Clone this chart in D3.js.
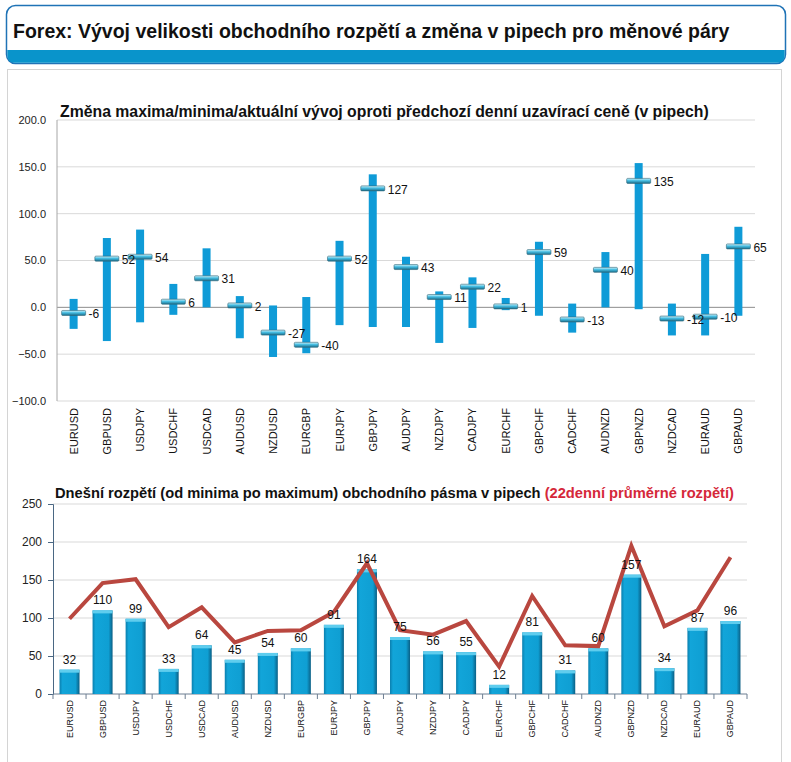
<!DOCTYPE html>
<html>
<head>
<meta charset="utf-8">
<script src="https://cdn.jsdelivr.net/npm/d3@7"></script>
<style>
  body { margin: 0; background: #fff; }
  svg { display: block; font-family: "Liberation Sans", Arial, sans-serif; }
</style>
</head>
<body>
<svg id="chart" width="791" height="762"></svg>
<script>
// Data
const pairs = ['EURUSD', 'GBPUSD', 'USDJPY', 'USDCHF', 'USDCAD', 'AUDUSD', 'NZDUSD', 'EURGBP', 'EURJPY', 'GBPJPY', 'AUDJPY',
    'NZDJPY', 'CADJPY', 'EURCHF', 'GBPCHF', 'CADCHF', 'AUDNZD', 'GBPNZD', 'NZDCAD', 'EURAUD', 'GBPAUD'];
const changeMax = [9, 74, 83, 25, 63, 12, 2, 11, 71, 142, 54, 17, 32, 10, 70, 4, 59, 154, 4, 57, 86];
const changeMin = [-23, -36, -16, -8, 0, -33, -53, -49, -19, -21, -21, -38, -22, -3, -9, -27, 0, -2, -30, -30, -9];
const changeNow = [-6, 52, 54, 6, 31, 2, -27, -40, 52, 127, 43, 11, 22, 1, 59, -13, 40, 135, -12, -10, 65];
const rangeToday = [32, 110, 99, 33, 64, 45, 54, 60, 91, 164, 75, 56, 55, 12, 81, 31, 60, 157, 34, 87, 96];
const range22 = [99, 146, 151, 88, 114, 68, 83, 84, 108, 172, 84, 78, 96, 36, 129, 64, 63, 195, 89, 110, 180];
const topTicks = [-100, -50, 0, 50, 100, 150, 200];
const bottomTicks = [0, 50, 100, 150, 200, 250];

const svg = d3.select('#chart');
const defs = svg.append('defs');

// Gradients
const crossGrad = defs.append('linearGradient').attr('id', 'crossGrad')
    .attr('x1', 0).attr('y1', 0).attr('x2', 0).attr('y2', 1);
crossGrad.append('stop').attr('offset', '0%').attr('stop-color', '#d4f4fb');
crossGrad.append('stop').attr('offset', '45%').attr('stop-color', '#45bde2');
crossGrad.append('stop').attr('offset', '100%').attr('stop-color', '#1b6d8a');

const barGrad = defs.append('linearGradient').attr('id', 'barGrad')
    .attr('x1', 0).attr('y1', 0).attr('x2', 1).attr('y2', 0);
barGrad.append('stop').attr('offset', '0%').attr('stop-color', '#0b7fae');
barGrad.append('stop').attr('offset', '15%').attr('stop-color', '#12a5d9');
barGrad.append('stop').attr('offset', '80%').attr('stop-color', '#0f9fd3');
barGrad.append('stop').attr('offset', '100%').attr('stop-color', '#0a5f85');

// Header box
svg.append('rect')
    .attr('x', 6.5).attr('y', 5.5).attr('width', 779).attr('height', 58).attr('rx', 9)
    .attr('fill', '#fff').attr('stroke', '#1f73b6').attr('stroke-width', 1.5);
svg.append('path')
    .attr('d', 'M7.3,50 H784.7 V55 Q784.7,62.7 777,62.7 H15 Q7.3,62.7 7.3,55 Z')
    .attr('fill', '#0994cb');
svg.append('text')
    .attr('x', 13).attr('y', 38)
    .attr('font-size', 19.5).attr('font-weight', 'bold').attr('fill', '#111')
    .text('Forex: Vývoj velikosti obchodního rozpětí a změna v pipech pro měnové páry');

// Panel
svg.append('rect')
    .attr('x', 7.5).attr('y', 69.5).attr('width', 774).attr('height', 700)
    .attr('fill', '#fff').attr('stroke', '#d4d4d4');

// ---------- Top chart ----------
const x1 = d3.scaleBand().domain(pairs).range([57, 755]);
const y1 = d3.scaleLinear().domain([-100, 200]).range([401, 120]);

const topG = svg.append('g');

topG.append('g').selectAll('line')
    .data(topTicks)
    .join('line')
    .attr('x1', 57).attr('x2', 755)
    .attr('y1', d => y1(d)).attr('y2', d => y1(d))
    .attr('stroke', d => d === 0 ? '#8c8c8c' : '#d9d9d9')
    .attr('stroke-width', 1);

topG.append('line')
    .attr('x1', 57).attr('x2', 57).attr('y1', y1(200)).attr('y2', y1(-100))
    .attr('stroke', '#a6a6a6');

topG.append('g').selectAll('text')
    .data(topTicks)
    .join('text')
    .attr('x', 46).attr('y', d => y1(d)).attr('dy', '0.35em')
    .attr('text-anchor', 'end').attr('font-size', 11).attr('fill', '#222')
    .text(d => d3.format('.1f')(d));

topG.append('g').selectAll('text')
    .data(pairs)
    .join('text')
    .attr('transform', d => `translate(${x1(d) + x1.bandwidth() / 2 + 4},408) rotate(-90)`)
    .attr('text-anchor', 'end').attr('font-size', 11).attr('fill', '#111')
    .text(d => d);

// ranges
topG.append('g').selectAll('rect')
    .data(pairs)
    .join('rect')
    .attr('x', d => x1(d) + x1.bandwidth() / 2 - 4)
    .attr('width', 8)
    .attr('y', (d, i) => y1(changeMax[i]))
    .attr('height', (d, i) => y1(changeMin[i]) - y1(changeMax[i]))
    .attr('fill', '#0f9bd7');

// current markers
topG.append('g').selectAll('rect')
    .data(pairs)
    .join('rect')
    .attr('x', d => x1(d) + x1.bandwidth() / 2 - 12)
    .attr('width', 24)
    .attr('y', (d, i) => y1(changeNow[i]) - 2.5)
    .attr('height', 5)
    .attr('rx', 1)
    .attr('fill', 'url(#crossGrad)')
    .attr('stroke', '#2f6679').attr('stroke-width', 0.6);

topG.append('g').selectAll('text')
    .data(pairs)
    .join('text')
    .attr('x', d => x1(d) + x1.bandwidth() / 2 + 15)
    .attr('y', (d, i) => y1(changeNow[i]) + 1)
    .attr('dy', '0.35em')
    .attr('font-size', 12).attr('fill', '#111')
    .text((d, i) => changeNow[i]);

svg.append('text')
    .attr('x', 60).attr('y', 117)
    .attr('font-size', 15.8).attr('font-weight', 'bold').attr('fill', '#111')
    .text('Změna maxima/minima/aktuální vývoj oproti předchozí denní uzavírací ceně (v pipech)');

// ---------- Bottom chart ----------
const x2 = d3.scaleBand().domain(pairs).range([53, 747]);
const y2 = d3.scaleLinear().domain([0, 250]).range([694, 504]);

const bot = svg.append('g');

bot.append('g').selectAll('line')
    .data(bottomTicks.filter(d => d > 0))
    .join('line')
    .attr('x1', 53).attr('x2', 747)
    .attr('y1', d => y2(d)).attr('y2', d => y2(d))
    .attr('stroke', '#d9d9d9');

const yAxis = bot.append('g')
    .attr('transform', 'translate(53,0)')
    .call(d3.axisLeft(y2).tickValues(bottomTicks).tickSize(5).tickPadding(6));
yAxis.select('.domain').attr('stroke', '#4a6783');
yAxis.selectAll('.tick line').attr('stroke', '#4a6783');
yAxis.selectAll('.tick text').attr('font-size', 12).attr('fill', '#222')
    .attr('font-family', '"Liberation Sans", Arial, sans-serif');

// x axis line + ticks between categories
bot.append('line')
    .attr('x1', 53).attr('x2', 747).attr('y1', 694).attr('y2', 694)
    .attr('stroke', '#6d7f92');
bot.append('g').selectAll('line')
    .data(pairs.concat(['end']))
    .join('line')
    .attr('x1', (d, i) => 53 + i * x2.step()).attr('x2', (d, i) => 53 + i * x2.step())
    .attr('y1', 694).attr('y2', 699)
    .attr('stroke', '#6d7f92');

// bars
const bars = bot.append('g').selectAll('g')
    .data(pairs)
    .join('g');
bars.append('rect')
    .attr('x', d => x2(d) + x2.bandwidth() / 2 - 10)
    .attr('width', 20)
    .attr('y', (d, i) => y2(rangeToday[i]))
    .attr('height', (d, i) => 694 - y2(rangeToday[i]))
    .attr('fill', 'url(#barGrad)');
bars.append('rect')
    .attr('x', d => x2(d) + x2.bandwidth() / 2 - 10)
    .attr('width', 20)
    .attr('y', (d, i) => y2(rangeToday[i]))
    .attr('height', 3)
    .attr('fill', '#5fcdee');

bot.append('path')
    .datum(range22)
    .attr('fill', 'none')
    .attr('stroke', '#b9473f')
    .attr('stroke-width', 4)
    .attr('stroke-linejoin', 'miter')
    .attr('d', d3.line()
        .x((d, i) => x2(pairs[i]) + x2.bandwidth() / 2)
        .y(d => y2(d)));

bot.append('g').selectAll('text')
    .data(pairs)
    .join('text')
    .attr('x', d => x2(d) + x2.bandwidth() / 2)
    .attr('y', (d, i) => y2(rangeToday[i]) - 6)
    .attr('text-anchor', 'middle').attr('font-size', 12).attr('fill', '#111')
    .text((d, i) => rangeToday[i]);

bot.append('g').selectAll('text')
    .data(pairs)
    .join('text')
    .attr('transform', d => `translate(${x2(d) + x2.bandwidth() / 2 + 3},700) rotate(-90)`)
    .attr('text-anchor', 'end').attr('font-size', 9).attr('fill', '#111')
    .text(d => d);

const t2 = svg.append('text')
    .attr('x', 55).attr('y', 498)
    .attr('font-size', 14.7).attr('font-weight', 'bold').attr('fill', '#111');
t2.append('tspan').text('Dnešní rozpětí (od minima po maximum) obchodního pásma v pipech ');
t2.append('tspan').attr('fill', '#d5283a').text('(22denní průměrné rozpětí)');
</script>
</body>
</html>
